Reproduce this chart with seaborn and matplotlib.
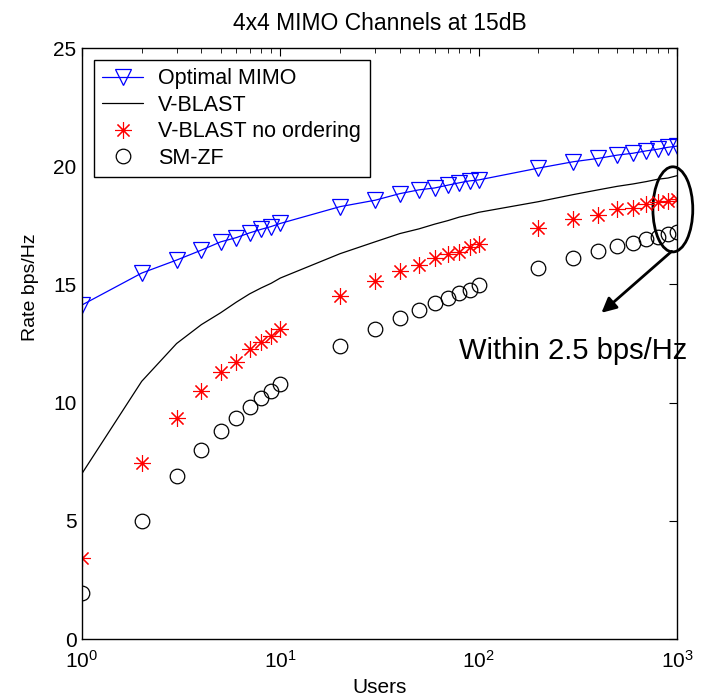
import numpy as np
import pandas as pd
import seaborn as sns
import matplotlib
matplotlib.use("Agg")
import matplotlib.pyplot as plt
from matplotlib.patches import Ellipse

# Data
users = [1, 2, 3, 4, 5, 6, 7, 8, 9, 10,
         20, 30, 40, 50, 60, 70, 80, 90, 100,
         200, 300, 400, 500, 600, 700, 800, 900, 1000]

optimal_mimo = [14.13, 15.48, 16.03, 16.45, 16.80, 16.98, 17.18, 17.33, 17.45, 17.58,
                18.29, 18.56, 18.84, 19.00, 19.08, 19.20, 19.30, 19.38, 19.42,
                19.92, 20.19, 20.33, 20.47, 20.55, 20.65, 20.72, 20.80, 20.85]

vblast = [7.00, 10.90, 12.50, 13.30, 13.80, 14.25, 14.60, 14.85, 15.05, 15.27,
          16.30, 16.80, 17.15, 17.35, 17.55, 17.70, 17.85, 17.95, 18.05,
          18.50, 18.80, 19.00, 19.15, 19.25, 19.35, 19.45, 19.50, 19.60]

vblast_no_order = [3.42, 7.44, 9.35, 10.50, 11.30, 11.73, 12.27, 12.56, 12.83, 13.11,
                   14.50, 15.16, 15.55, 15.82, 16.13, 16.28, 16.38, 16.60, 16.70,
                   17.39, 17.75, 17.94, 18.18, 18.25, 18.40, 18.50, 18.54, 18.60]

sm_zf = [1.95, 5.00, 6.91, 8.00, 8.81, 9.33, 9.83, 10.21, 10.50, 10.79,
         12.39, 13.11, 13.56, 13.92, 14.23, 14.44, 14.62, 14.76, 14.97,
         15.68, 16.13, 16.43, 16.64, 16.77, 16.92, 17.02, 17.12, 17.23]

df = pd.DataFrame({"users": users, "optimal": optimal_mimo, "vblast": vblast,
                   "noorder": vblast_no_order, "smzf": sm_zf})

sns.set_style("white")
plt.rcParams["font.family"] = ["Liberation Sans", "DejaVu Sans"]
plt.rcParams["mathtext.fontset"] = "custom"
plt.rcParams["mathtext.rm"] = "Liberation Sans"
plt.rcParams["mathtext.it"] = "Liberation Sans"
plt.rcParams["text.color"] = "black"
plt.rcParams["axes.labelcolor"] = "black"
plt.rcParams["xtick.color"] = "black"
plt.rcParams["ytick.color"] = "black"

fig = plt.figure(figsize=(7.19, 7.0), dpi=100)
ax = fig.add_axes([0.114, 0.0871, 0.8276, 0.8443])

sns.lineplot(data=df, x="users", y="optimal", ax=ax, color="blue", lw=0.9,
             marker="v", markersize=12, markerfacecolor="none",
             markeredgecolor="blue", markeredgewidth=0.9, label="Optimal MIMO")
sns.lineplot(data=df, x="users", y="vblast", ax=ax, color="black", lw=0.9,
             label="V-BLAST")
sns.lineplot(data=df, x="users", y="noorder", ax=ax, color="red", linestyle="",
             marker=(8, 2, 0), markersize=12, markeredgewidth=0.8,
             markeredgecolor="red", label="V-BLAST no ordering")
sns.lineplot(data=df, x="users", y="smzf", ax=ax, color="black", linestyle="",
             marker="o", markersize=10.5, markerfacecolor="none",
             markeredgecolor="black", markeredgewidth=0.9, label="SM-ZF")

ax.set_xscale("log")
ax.set_xlim(1, 1000)
ax.set_ylim(0, 25)
ax.set_yticks([0, 5, 10, 15, 20, 25])

ax.set_title("4x4 MIMO Channels at 15dB", fontsize=16.5, pad=13, color="black")
ax.set_xlabel("Users", fontsize=15, labelpad=4)
ax.set_ylabel("Rate bps/Hz", fontsize=14)
ax.yaxis.set_label_coords(-0.073, 0.595)

for s in ax.spines.values():
    s.set_visible(True)
    s.set_color("black")
    s.set_linewidth(1.0)
ax.tick_params(which="both", direction="in", top=True, right=True,
               labelsize=15, colors="black")
ax.tick_params(which="major", length=6)
ax.tick_params(which="minor", length=3.5)
ax.tick_params(axis="x", which="both", pad=8)
ax.tick_params(axis="y", pad=4)

leg = ax.legend(loc="upper left", fontsize=15.5, frameon=True, fancybox=False,
                edgecolor="black", framealpha=1, borderaxespad=0.55,
                handlelength=1.9, handletextpad=0.7, labelspacing=0.25,
                borderpad=0.4)
leg.get_frame().set_linewidth(1.0)

# annotation: ellipse around the right end, arrow and text
ell = Ellipse((0.993, 0.727), 0.067, 0.144, transform=ax.transAxes,
              fill=False, edgecolor="black", lw=2, clip_on=False)
ax.add_patch(ell)
ax.annotate("", xy=(416, 13.8), xytext=(940, 16.4),
            arrowprops=dict(arrowstyle="-|>", lw=2, color="black",
                            mutation_scale=22, shrinkA=0, shrinkB=0))
ax.text(300, 12.2, "Within 2.5 bps/Hz", fontsize=21, ha="center", va="center",
        clip_on=False)

fig.savefig("out.png", dpi=100)
